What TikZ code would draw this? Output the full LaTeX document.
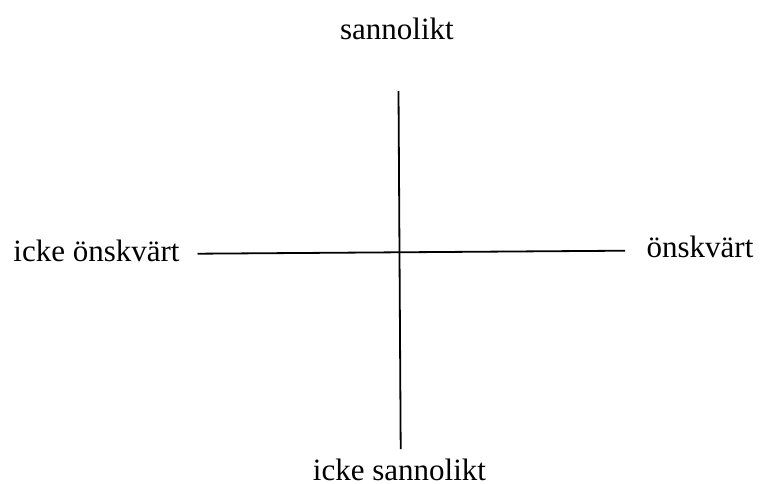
\documentclass[tikz,border=0pt]{standalone}
\usepackage{fontspec}
\setmainfont{Liberation Serif}
\begin{document}
\begin{tikzpicture}[x=1pt,y=-1pt,
  lbl/.style={anchor=base,inner sep=0pt,font=\fontsize{31}{34}\selectfont},
  axis/.style={line width=1.8pt,black}]
\useasboundingbox (0,0) rectangle (760,483);
\node[lbl] (top) at (397,39) {sannolikt};
\node[lbl] (bot) at (399.5,480.5) {icke sannolikt};
\node[lbl] (left) at (96.5,261) {icke önskvärt};
\node[lbl] (right) at (700,257) {önskvärt};
\coordinate (vt) at (398.5,91);
\coordinate (vb) at (400.7,449);
\coordinate (hl) at (197.5,253.7);
\coordinate (hr) at (625,250.7);
\draw[axis] (vt) -- (vb);
\draw[axis] (hl) -- (hr);
\end{tikzpicture}
\end{document}
